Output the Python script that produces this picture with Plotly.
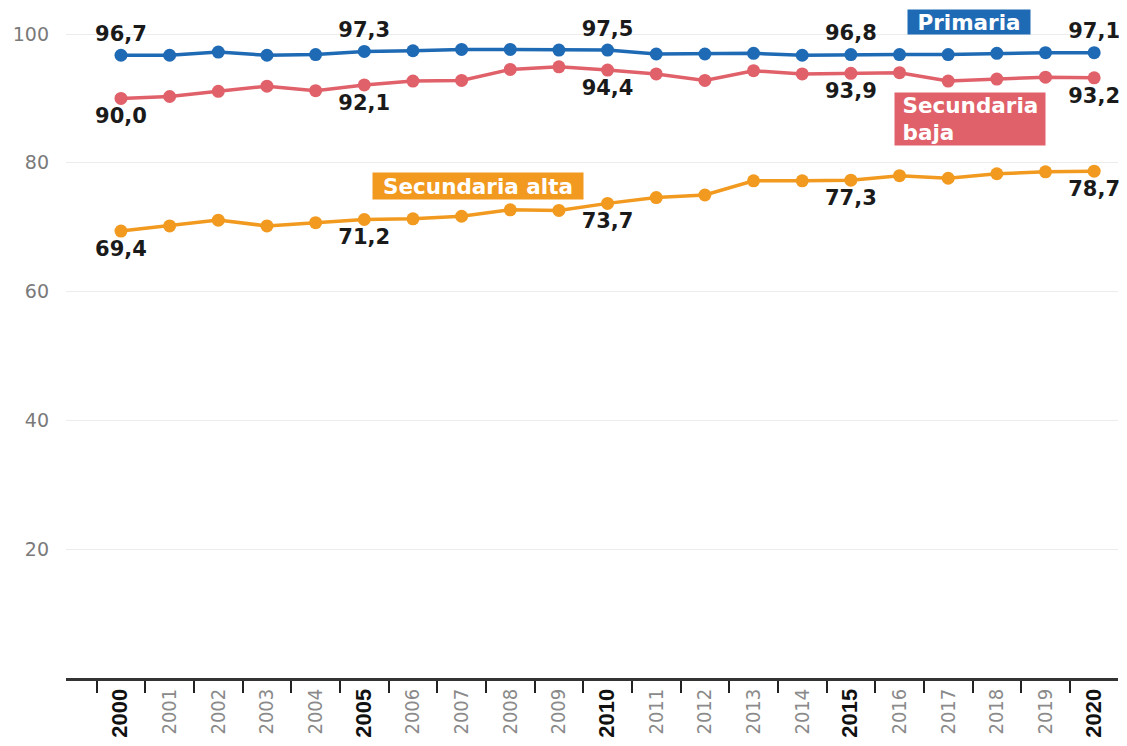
import plotly.graph_objects as go

years = [str(y) for y in range(2000, 2021)]
primaria = [96.7, 96.7, 97.2, 96.7, 96.8, 97.3, 97.4, 97.6, 97.6, 97.5, 97.5,
            96.9, 96.9, 97.0, 96.7, 96.8, 96.8, 96.8, 97.0, 97.1, 97.1]
sec_baja = [90.0, 90.3, 91.1, 91.9, 91.2, 92.1, 92.7, 92.8, 94.5, 94.9, 94.4,
            93.8, 92.8, 94.3, 93.8, 93.9, 94.0, 92.7, 93.0, 93.3, 93.2]
sec_alta = [69.4, 70.2, 71.1, 70.2, 70.7, 71.2, 71.3, 71.7, 72.7, 72.6, 73.7,
            74.6, 75.0, 77.2, 77.2, 77.3, 78.0, 77.6, 78.3, 78.6, 78.7]
labelled_years = ["2000", "2005", "2010", "2015", "2020"]
y_ticks = [20, 40, 60, 80, 100]

BLUE = "#1f6ab4"
RED = "#e0616a"
ORANGE = "#f19a1f"


def fmt(vals):
    return [f"{v:.1f}".replace(".", ",") if yr in labelled_years else ""
            for yr, v in zip(years, vals)]


def tick_text(y):
    if y in labelled_years:
        return (f"<span style='font-family:Liberation Sans;font-size:22px;color:#111'>"
                f"<b>{y}</b></span>")
    return f"<span style='color:#8a8a8a'>{y}</span>"


fig = go.Figure()
series = [
    ("Primaria", primaria, BLUE, "top center"),
    ("Secundaria baja", sec_baja, RED, "bottom center"),
    ("Secundaria alta", sec_alta, ORANGE, "bottom center"),
]
for name, vals, col, pos in series:
    fig.add_trace(go.Scatter(
        x=years, y=vals, name=name, mode="lines+markers+text",
        line=dict(color=col, width=3.5),
        marker=dict(color=col, size=13),
        text=fmt(vals), textposition=pos,
        textfont=dict(family="DejaVu Sans", size=21, color="#1a1a1a", weight="bold"),
        cliponaxis=False,
    ))

box_font = dict(family="DejaVu Sans", size=21.5, color="white", weight="bold")
fig.add_annotation(x=17.43, y=101.86, xref="x", yref="y", text="Primaria",
                   showarrow=False, bgcolor=BLUE, font=box_font,
                   borderpad=0, width=122, height=24, align="center")
fig.add_annotation(x=17.45, y=86.8, xref="x", yref="y",
                   text="\u00a0Secundaria<br>\u00a0baja",
                   showarrow=False, bgcolor=RED, font=box_font,
                   borderpad=0, width=150, height=52, align="left")
fig.add_annotation(x=7.34, y=76.4, xref="x", yref="y", text="Secundaria alta",
                   showarrow=False, bgcolor=ORANGE, font=box_font,
                   borderpad=0, width=210, height=26, align="center")

fig.update_layout(
    width=1119, height=738,
    margin=dict(l=58, r=9, t=0, b=68),
    plot_bgcolor="white", paper_bgcolor="white",
    showlegend=False,
)
fig.update_xaxes(
    type="category", range=[-1.13, 20.49], automargin=False,
    tickmode="array", tickvals=years, ticktext=[tick_text(y) for y in years],
    tickson="boundaries", ticks="outside", ticklen=12, tickwidth=2, tickcolor="#222",
    tickangle=-90,
    tickfont=dict(family="DejaVu Sans Condensed, DejaVu Sans", size=20, color="#8a8a8a"),
    showline=True, linecolor="#333", linewidth=2.5, showgrid=False, zeroline=False,
)
fig.update_yaxes(
    range=[0, 104.04], automargin=False,
    tickvals=y_ticks, ticktext=[str(v) for v in y_ticks],
    showgrid=True, gridcolor="#ececec", gridwidth=1, zeroline=False, showline=False,
    tickfont=dict(family="DejaVu Sans", size=19, color="#7a7a7a"),
    ticklabelstandoff=16,
)

fig.write_html("out.html")
